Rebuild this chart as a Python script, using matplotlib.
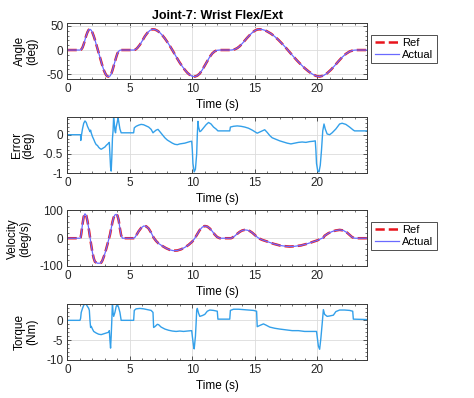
"""Joint-7 wrist flex/ext tracking: angle, error, velocity and torque."""

import matplotlib
matplotlib.use("Agg")
import matplotlib.pyplot as plt
from matplotlib.ticker import AutoMinorLocator

# ---- data ------------------------------------------------------------------
angle_t = [0, 1.0, 1.1, 1.2, 1.3, 1.4, 1.5, 1.6, 1.7, 1.8, 1.9, 2.0, 2.1, 2.2,
           2.3, 2.4, 2.5, 2.6, 2.7, 2.8, 2.9, 3.0, 3.1, 3.2, 3.3, 3.4, 3.5, 3.6,
           3.7, 3.8, 3.9, 4.0, 4.1, 4.2, 4.3, 5.3, 5.4, 5.5, 5.6, 5.8, 6.0, 6.2,
           6.4, 6.6, 6.8, 7.0, 7.2, 7.4, 7.6, 7.8, 8.0, 8.2, 8.4, 8.6, 8.8, 9.0,
           9.2, 9.4, 9.6, 9.8, 10.0, 10.2, 10.4, 10.6, 10.8, 11.0, 11.2, 11.4,
           11.6, 11.8, 12.0, 12.2, 13.1, 13.2, 13.4, 13.6, 13.8, 14.0, 14.2,
           14.4, 14.6, 14.8, 15.0, 15.2, 15.4, 15.6, 15.8, 16.0, 16.3, 16.6,
           16.9, 17.2, 17.5, 17.8, 18.1, 18.4, 18.7, 19.0, 19.3, 19.6, 19.9,
           20.2, 20.5, 20.8, 21.1, 21.4, 21.7, 22.0, 22.3, 22.6, 22.9, 23.1, 24]
angle_ref = [0, 0, 1, 5, 12, 21, 30, 37, 42, 43, 41, 36, 29, 21,
             12, 3, -6, -15, -24, -33, -41, -47, -52, -54.5, -55, -54, -50, -42,
             -33, -24, -15, -7, -2.5, -0.5, 0, 0, 0.5, 2, 4.5, 11, 19.5, 28.5,
             35.5, 40.5, 43, 42.5, 40, 36, 30.5, 24, 16.5, 8.5, 0, -9, -18, -26.5,
             -34, -41, -47, -51.5, -54.5, -55, -53, -48.5, -41, -32, -23, -14,
             -7, -2.5, -0.5, 0, 0, 0.3, 1.5, 4, 8, 13.5, 19.5,
             25.5, 31, 36, 40, 42.5, 43, 42.5, 41, 38.5, 34, 28,
             21, 13, 4.5, -4.5, -13.5, -22, -30, -37.5, -44, -49.5, -53.5,
             -55, -53, -48, -41, -32.5, -23.5, -15, -8, -3, -0.5, 0, 0]
angle_actual = list(angle_ref)

vel_t = [0, 1.0, 1.05, 1.1, 1.2, 1.3, 1.4, 1.5, 1.6, 1.7, 1.8, 1.9, 2.0, 2.1,
         2.2, 2.4, 2.6, 2.7, 2.8, 3.0, 3.2, 3.3, 3.4, 3.5, 3.6, 3.7, 3.8, 3.9,
         4.0, 4.1, 4.2, 4.3, 4.4, 5.3, 5.4, 5.5, 5.7, 5.9, 6.1, 6.3, 6.5, 6.7,
         6.9, 7.1, 7.3, 7.6, 7.9, 8.2, 8.5, 8.8, 9.1, 9.4, 9.7, 10.0, 10.2,
         10.4, 10.6, 10.8, 11.0, 11.2, 11.4, 11.6, 11.8, 12.0, 12.2, 13.1,
         13.2, 13.4, 13.6, 13.8, 14.0, 14.2, 14.4, 14.6, 14.8, 15.0, 15.2,
         15.4, 15.6, 16.0, 16.5, 17.0, 17.5, 17.8, 18.2, 18.7, 19.2, 19.6,
         20.0, 20.3, 20.5, 20.6, 20.9, 21.2, 21.5, 21.8, 22.1, 22.4, 22.6,
         22.8, 23.0, 24]
vel_ref = [0, 0, 2, 15, 50, 78, 88, 82, 62, 35, 5, -25, -52, -72,
           -85, -90, -90, -88, -80, -55, -22, -5, 12, 35, 58, 75, 84, 86,
           82, 65, 35, 10, 0, 0, 3, 10, 25, 37, 44, 43, 35, 20,
           2, -10, -19, -28, -36, -42, -45, -44, -40, -33, -24, -12, 0,
           15, 30, 40, 44, 42, 35, 25, 13, 4, 0, 0,
           2, 8, 16, 23, 28, 30, 29, 26, 20, 12, 4,
           -2, -6, -12, -20, -26, -29, -30, -29, -26, -20, -14,
           -8, -2, 2, 9, 18, 24, 28, 30, 28, 20, 12,
           4, 0, 0]
vel_actual = list(vel_ref)

err_t = [0, 1.0, 1.05, 1.06, 1.1, 1.2, 1.3, 1.4, 1.5, 1.6, 1.7, 1.75, 1.8,
         1.85, 1.9, 2.0, 2.1, 2.2, 2.3, 2.4, 2.5, 2.6, 2.7, 2.8, 2.9, 3.0, 3.1,
         3.2, 3.3, 3.35, 3.4, 3.45, 3.5, 3.55, 3.6, 3.65, 3.7, 3.75, 3.8, 3.85,
         3.9, 4.0, 4.05, 4.1, 4.2, 4.3, 5.3, 5.35, 5.5, 5.7, 5.9, 6.1, 6.3,
         6.5, 6.7, 6.85, 6.95, 7.1, 7.25, 7.4, 7.6, 7.8, 8.0, 8.2, 8.4, 8.6,
         8.8, 9.0, 9.2, 9.4, 9.6, 9.8, 9.95, 10.0, 10.05, 10.15, 10.25, 10.35,
         10.4, 10.45, 10.5, 10.6, 10.7, 10.9, 11.1, 11.3, 11.5, 11.7, 11.9,
         12.05, 13.0, 13.05, 13.3, 13.6, 13.9, 14.2, 14.5, 14.8, 15.0, 15.2,
         15.4, 15.6, 15.8, 16.0, 16.2, 16.4, 16.7, 17.0, 17.3, 17.6, 17.9,
         18.2, 18.5, 18.8, 19.1, 19.4, 19.7, 19.85, 19.9, 19.95, 20.05, 20.15,
         20.25, 20.35, 20.45, 20.55, 20.65, 20.8, 21.0, 21.2, 21.5, 21.8, 22.0,
         22.3, 22.6, 22.9, 23.0, 24.0]
err_val = [0, 0, 0, -0.15, -0.05, 0.15, 0.3, 0.36, 0.32, 0.22, 0.15, 0.12, 0.08,
           0.12, 0.05, -0.05, -0.12, -0.2, -0.26, -0.28, -0.33, -0.36, -0.38,
           -0.36, -0.34, -0.32, -0.28, -0.25, -0.22, -0.2, -0.5, -0.85, -0.95,
           -0.6, -0.1, 0.1, 0.5, 0.3, 0.1, 0.05, 0.2, 0.35, 0.45, 0.35, 0.15,
           0.05, 0.05, 0.18, 0.22, 0.25, 0.27, 0.26, 0.23, 0.2, 0.14, 0.05, 0.08,
           0.12, 0.14, 0.08, 0.0, -0.08, -0.14, -0.18, -0.22, -0.25, -0.26, -0.24,
           -0.23, -0.22, -0.2, -0.18, -0.17, -0.4, -0.75, -0.97, -0.9, -0.5, 0.0,
           0.35, 0.2, 0.08, 0.1, 0.18, 0.26, 0.32, 0.28, 0.2, 0.15, 0.1, 0.1,
           0.2, 0.22, 0.23, 0.22, 0.2, 0.17, 0.12, 0.08, 0.04, 0.07, 0.1, 0.13,
           0.06, -0.02, -0.08, -0.12, -0.16, -0.19, -0.22, -0.24, -0.22, -0.2,
           -0.19, -0.2, -0.18, -0.17, -0.16, -0.4, -0.75, -0.95, -0.97, -0.8,
           -0.4, 0.1, 0.28, 0.15, 0.02, 0.0, 0.05, 0.15, 0.28, 0.3, 0.27, 0.2,
           0.12, 0.1, 0.1]

torque_t = [0, 1.0, 1.05, 1.1, 1.2, 1.3, 1.4, 1.5, 1.6, 1.7, 1.75, 1.8, 1.85,
            1.9, 2.0, 2.1, 2.3, 2.5, 2.7, 2.9, 3.1, 3.3, 3.35, 3.4, 3.45, 3.5,
            3.55, 3.6, 3.65, 3.7, 3.8, 3.9, 4.0, 4.1, 4.2, 4.3, 5.3, 5.35, 5.5,
            5.8, 6.1, 6.4, 6.7, 6.85, 6.9, 7.0, 7.2, 7.3, 7.5, 7.8, 8.1, 8.4,
            8.7, 9.0, 9.3, 9.6, 9.95, 10.0, 10.1, 10.15, 10.25, 10.3, 10.35,
            10.4, 10.5, 10.6, 10.8, 11.0, 11.2, 11.4, 11.7, 12.0, 12.05, 13.0,
            13.05, 13.3, 13.7, 14.1, 14.5, 14.9, 15.15, 15.2, 15.4, 15.7, 15.9,
            16.2, 16.6, 17.0, 17.5, 18.0, 18.5, 19.0, 19.5, 19.95, 20.0, 20.1,
            20.2, 20.3, 20.4, 20.5, 20.6, 20.8, 21.0, 21.3, 21.5, 21.8, 22.2,
            22.6, 22.85, 22.9, 24]
torque_val = [0, 0, 0.5, 2, 3, 3.8, 4.2, 4, 3.5, 3, 2.5, 0, -1.8,
              -1.5, -2.2, -2.8, -3.2, -3.5, -3.6, -3.4, -3.2, -3.0, -2.6, -5,
              -7, -4, 0, 4.5, 2, 1, 2, 3.5, 4, 3.2, 2, 0, 0, 2.5, 2.9,
              3.0, 2.9, 2.7, 2.5, 2.0, -1.8, -1.6, -1.0, -1.1, -1.7, -2.2, -2.5,
              -2.7, -2.8, -2.7, -2.8, -2.7, -2.6, -4, -6.5, -7.2, -4, -1, 2.5,
              3, 1.8, 1, 1.2, 1.5, 2.3, 2.6, 2.5, 2.3, 0.3, 0.3,
              2.5, 2.8, 2.8, 2.7, 2.6, 2.5, 2.3, -1.6, -1.3, -0.9, -1.2,
              -1.7, -2.0, -2.2, -2.4, -2.6, -2.6, -2.8, -2.8, -2.8, -4, -6.5,
              -7.3, -4.5, -1, 2.7, 1.5, 1.0, 1.1, 1.3, 2.2, 2.6, 2.6,
              2.5, 2.3, 0.3, 0.2]

title = "Joint-7: Wrist Flex/Ext"
ylabels = ["Angle\n(deg)", "Error\n(deg)", "Velocity\n(deg/s)", "Torque\n(Nm)"]
ylims = [(-60, 55), (-1, 0.45), (-100, 100), (-10, 4)]
yticks = [[-50, 0, 50], [-1, -0.5, 0], [-100, 0, 100], [-10, -5, 0]]
yticklabels = [["-50", "0", "50"], ["-1", "-0.5", "0"],
               ["-100", "0", "100"], ["-10", "-5", "0"]]

REF_COLOR = "#e8141c"
ACT_COLOR = "#6a6aff"
LINE_COLOR = "#33a0ea"
AX_COLOR = "#3a3a3a"

plt.rcParams["font.family"] = ["Liberation Sans", "DejaVu Sans"]
plt.rcParams["font.size"] = 8.5

fig = plt.figure(figsize=(4.74, 3.98), dpi=100)
left, width, height = 0.1424, 0.632, 0.1395
bottoms = [0.8015, 0.5653, 0.3317, 0.0955]
axes = [fig.add_axes([left, b, width, height]) for b in bottoms]

# angle
axes[0].plot(angle_t, angle_ref, "--", color=REF_COLOR, lw=1.8, label="Ref")
axes[0].plot(angle_t, angle_actual, "-", color=ACT_COLOR, lw=0.9, label="Actual")
# error
axes[1].plot(err_t, err_val, color=LINE_COLOR, lw=1.0)
# velocity
axes[2].plot(vel_t, vel_ref, "--", color=REF_COLOR, lw=1.8, label="Ref")
axes[2].plot(vel_t, vel_actual, "-", color=ACT_COLOR, lw=0.9, label="Actual")
# torque
axes[3].plot(torque_t, torque_val, color=LINE_COLOR, lw=1.0)

for i, ax in enumerate(axes):
    ax.set_xlim(0, 24)
    ax.set_ylim(*ylims[i])
    ax.set_xticks([0, 5, 10, 15, 20])
    ax.set_yticks(yticks[i])
    ax.set_yticklabels(yticklabels[i])
    ax.xaxis.set_minor_locator(AutoMinorLocator(5))
    ax.yaxis.set_minor_locator(AutoMinorLocator(5))
    ax.tick_params(which="both", direction="in", top=True, right=True,
                   colors=AX_COLOR, labelcolor="#262626")
    ax.tick_params(which="major", length=3, width=0.6, pad=3)
    ax.tick_params(which="minor", length=1.6, width=0.5)
    ax.grid(True, which="major", color="#dcdcdc", lw=0.6)
    ax.set_axisbelow(True)
    for s in ax.spines.values():
        s.set_color(AX_COLOR)
        s.set_linewidth(0.7)
    ax.set_xlabel("Time (s)", labelpad=3)
    ax.set_ylabel(ylabels[i], labelpad=6, linespacing=1.0)

axes[0].set_title(title, fontweight="bold", fontsize=9, pad=3)

for ax in (axes[0], axes[2]):
    leg = ax.legend(loc="upper left", bbox_to_anchor=(1.014, 0.80),
                    frameon=True, fancybox=False, fontsize=8,
                    handlelength=2.2, handletextpad=0.3, borderpad=0.3,
                    labelspacing=0.2, borderaxespad=0)
    leg.get_frame().set_edgecolor("#222222")
    leg.get_frame().set_linewidth(0.7)

fig.savefig("out.png", dpi=100)
